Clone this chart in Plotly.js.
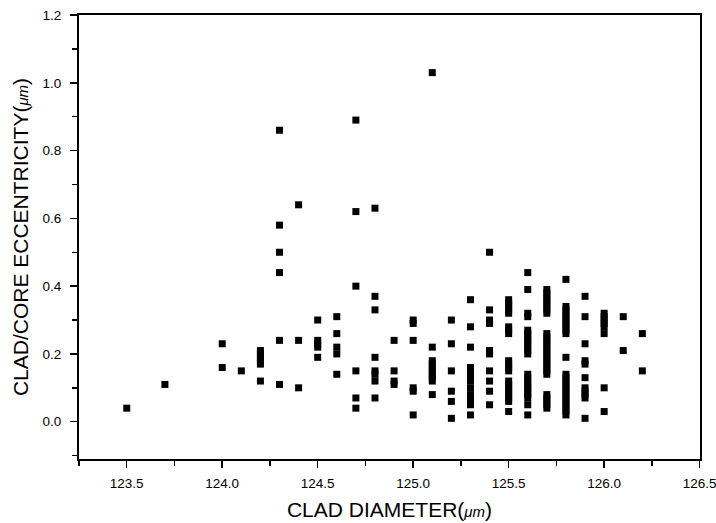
<!DOCTYPE html>
<html>
<head>
<meta charset="utf-8">
<script src="https://cdn.plot.ly/plotly-3.0.1.min.js"></script>
<style>html,body{margin:0;padding:0;background:#fff;}#chart{width:716px;height:523px;}</style>
</head>
<body>
<div id="chart"></div>
<script>
// Clad diameter columns (µm)
const cladDiameters = [123.5, 123.7, 124.0, 124.1, 124.2, 124.3, 124.4, 124.5, 124.6, 124.7, 124.8, 124.9,
  125.0, 125.1, 125.2, 125.3, 125.4, 125.5, 125.6, 125.7, 125.8, 125.9, 126.0, 126.1, 126.2];

// Clad/core eccentricity values (µm) observed at each clad diameter
const eccentricities = [
  [0.04],
  [0.11],
  [0.23, 0.16],
  [0.15],
  [0.21, 0.20, 0.19, 0.18, 0.17, 0.12],
  [0.86, 0.58, 0.50, 0.44, 0.24, 0.11],
  [0.64, 0.24, 0.10],
  [0.30, 0.24, 0.23, 0.22, 0.19],
  [0.31, 0.26, 0.22, 0.20, 0.14],
  [0.89, 0.62, 0.40, 0.15, 0.07, 0.04],
  [0.63, 0.37, 0.33, 0.19, 0.15, 0.14, 0.12, 0.07],
  [0.24, 0.15, 0.12, 0.11],
  [0.30, 0.29, 0.24, 0.10, 0.09, 0.02],
  [1.03, 0.22, 0.18, 0.17, 0.16, 0.15, 0.14, 0.13, 0.12, 0.08],
  [0.30, 0.23, 0.15, 0.09, 0.06, 0.01],
  [0.36, 0.28, 0.22, 0.16, 0.15, 0.14, 0.13, 0.12, 0.10, 0.08, 0.07, 0.06, 0.05, 0.02],
  [0.50, 0.33, 0.30, 0.29, 0.21, 0.20, 0.15, 0.12, 0.09, 0.05],
  [0.36, 0.35, 0.34, 0.33, 0.32, 0.28, 0.27, 0.26, 0.18, 0.17, 0.16, 0.15,
   0.12, 0.11, 0.10, 0.09, 0.08, 0.07, 0.06, 0.03],
  [0.44, 0.39, 0.32, 0.31, 0.27, 0.26, 0.25, 0.24, 0.23, 0.22, 0.21, 0.20,
   0.14, 0.13, 0.12, 0.11, 0.10, 0.09, 0.08, 0.07, 0.05, 0.02],
  [0.39, 0.38, 0.37, 0.36, 0.35, 0.34, 0.33, 0.32,
   0.26, 0.25, 0.24, 0.23, 0.22, 0.21, 0.20, 0.19, 0.18, 0.17, 0.16, 0.15, 0.14,
   0.08, 0.07, 0.06, 0.05, 0.04],
  [0.42, 0.34, 0.33, 0.32, 0.31, 0.30, 0.29, 0.28, 0.27, 0.26, 0.19,
   0.14, 0.13, 0.12, 0.11, 0.10, 0.09, 0.08, 0.07, 0.06, 0.05, 0.04, 0.03, 0.02],
  [0.37, 0.31, 0.23, 0.18, 0.17, 0.13, 0.10, 0.09, 0.08, 0.07, 0.01],
  [0.32, 0.31, 0.30, 0.29, 0.28, 0.26, 0.10, 0.03],
  [0.31, 0.21],
  [0.26, 0.15]
];

const xTickVals = [123.5, 124.0, 124.5, 125.0, 125.5, 126.0, 126.5];
const xTickText = ["123.5", "124.0", "124.5", "125.0", "125.5", "126.0", "126.5"];
const yTickVals = [0.0, 0.2, 0.4, 0.6, 0.8, 1.0, 1.2];
const yTickText = ["0.0", "0.2", "0.4", "0.6", "0.8", "1.0", "1.2"];

const xs = [], ys = [];
cladDiameters.forEach((d, i) => {
  eccentricities[i].forEach(v => { xs.push(d); ys.push(v); });
});

const fam = "'Liberation Sans', Arial, sans-serif";
const tickFont = {family: fam, size: 13.5, color: '#000'};
const titleFont = {family: fam, size: 21, color: '#000'};

const trace = {
  x: xs, y: ys, type: 'scatter', mode: 'markers',
  marker: {symbol: 'square', size: 7, color: '#000', line: {width: 0}},
  hoverinfo: 'x+y'
};

const layout = {
  width: 716, height: 523,
  margin: {l: 79, r: 16, t: 15, b: 64, pad: 0},
  paper_bgcolor: '#fff', plot_bgcolor: '#fff',
  showlegend: false,
  xaxis: {
    range: [123.25, 126.502],
    tickvals: xTickVals, ticktext: xTickText,
    ticks: 'outside', ticklen: 7, tickwidth: 1.5, tickcolor: '#000',
    ticklabelstandoff: 4,
    ticklabeloverflow: 'allow',
    minor: {dtick: 0.25, tick0: 123.25, ticks: 'outside', ticklen: 5, tickwidth: 1.5, tickcolor: '#000', showgrid: false},
    showline: true, linecolor: '#000', linewidth: 2, mirror: true,
    showgrid: false, zeroline: false,
    tickfont: tickFont,
    title: {text: 'CLAD DIAMETER(<i><span style="font-size:15px">μm</span></i>)', font: titleFont, standoff: 12}
  },
  yaxis: {
    range: [-0.11, 1.2],
    tickvals: yTickVals, ticktext: yTickText,
    ticks: 'outside', ticklen: 7, tickwidth: 1.5, tickcolor: '#000',
    ticklabelstandoff: 6,
    ticklabeloverflow: 'allow',
    minor: {dtick: 0.1, tick0: 0, ticks: 'outside', ticklen: 5, tickwidth: 1.5, tickcolor: '#000', showgrid: false},
    showline: true, linecolor: '#000', linewidth: 2, mirror: true,
    showgrid: false, zeroline: false,
    tickfont: tickFont,
    title: {text: 'CLAD/CORE ECCENTRICITY(<i><span style="font-size:15px">μm</span></i>)', font: titleFont, standoff: 8}
  }
};

Plotly.newPlot('chart', [trace], layout, {displayModeBar: false, staticPlot: true});
</script>
</body>
</html>
